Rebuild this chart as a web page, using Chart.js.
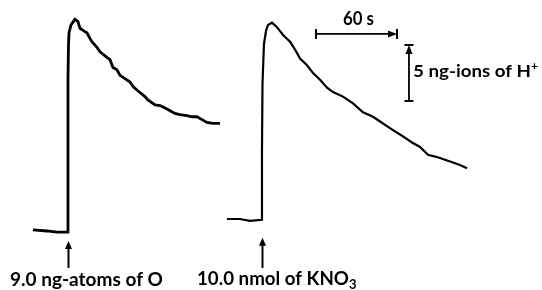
<!DOCTYPE html>
<html>
<head>
<meta charset="utf-8">
<script src="https://cdn.jsdelivr.net/npm/chart.js@4.4.1/dist/chart.umd.min.js"></script>
<style>
  html, body { margin: 0; padding: 0; background: #fff; }
  #wrap { width: 542px; height: 290px; position: relative; }
</style>
</head>
<body>
<div id="wrap"><canvas id="trace"></canvas></div>
<script>
// chart time in seconds (0 = first addition), H+ in ng-ions (0 = first baseline)
var oxygenTime = [-26.6, -15.9, -8.4, 0, 0, 0, 0.4, 0.8, 2.3, 5.3, 7.6, 9.1, 12.9, 14.4, 16.7, 18.2, 22.0, 24.3, 29.6, 31.9, 34.2, 37.2, 39.5, 43.3, 47.1, 49.4, 53.2, 58.5, 60.7, 66.1, 69.9, 75.2, 81.2, 85.0, 90.4, 94.2, 97.9, 102.5, 105.5, 110.1, 115.4];
var oxygenH = [0.1, 0, -0.1, -0.1, 7.3, 13.5, 16.6, 17.7, 18.4, 18.9, 18.7, 18.1, 17.8, 17.7, 17.2, 16.9, 16.4, 16.0, 15.5, 15.3, 14.6, 14.4, 13.9, 13.6, 13.3, 12.9, 12.5, 12.0, 11.7, 11.25, 11.2, 10.9, 10.5, 10.4, 10.3, 10.2, 10.2, 9.9, 9.7, 9.6, 9.6];

var nitrateTime = [120.7, 130.6, 138.2, 147.3, 147.3, 147.7, 148.8, 150.4, 151.9, 154.9, 158.7, 163.3, 168.6, 172.4, 176.2, 181.5, 186.1, 191.4, 196.7, 201.2, 208.8, 216.4, 224.0, 231.6, 239.2, 246.8, 253.6, 257.4, 261.2, 267.3, 273.3, 280.2, 290.1, 297.6, 303.0];
var nitrateH = [1.07, 1.07, 0.9, 1.0, 7.2, 13.2, 16.7, 17.9, 18.4, 18.6, 18.2, 17.5, 16.9, 16.2, 15.4, 14.8, 14.1, 13.5, 12.8, 12.4, 12.0, 11.4, 10.6, 10.2, 9.6, 9.0, 8.5, 8.2, 7.9, 7.5, 6.8, 6.6, 6.2, 5.9, 5.6];

var additionTimes = [0, 147.3];
var additionLabels = ['9.0 ng-atoms of O', '10.0 nmol of KNO'];
var timeBar = [188.3, 249.8];   // 60 s
var timeBarY = 17.6;
var protonBar = [11.6, 16.6];   // 5 ng-ions
var protonBarX = 258.9;

function pts(xs, ys) {
  return xs.map(function (x, i) { return { x: x, y: ys[i] }; });
}

var font = '"Lato", "Open Sans", sans-serif';

// draw text squeezed/stretched to a given width (old Gill Sans is wider than Lato)
function wideText(c, txt, x, y, width) {
  var w = c.measureText(txt).width;
  c.save();
  c.translate(x, y);
  c.scale(width / w, 1);
  c.fillText(txt, 0, 0);
  c.restore();
  return width;
}

var marks = {
  id: 'marks',
  afterDraw: function (chart) {
    var c = chart.ctx, xs = chart.scales.x, ys = chart.scales.y;
    c.save();
    c.strokeStyle = '#000';
    c.fillStyle = '#000';
    c.lineWidth = 2;

    // addition arrows
    additionTimes.forEach(function (t, i) {
      var px = Math.round(xs.getPixelForValue(t)) + 0.5;
      var tip = ys.getPixelForValue(i ? -0.6 : -0.9), tail = ys.getPixelForValue(-3.3);
      c.beginPath(); c.moveTo(px, tail); c.lineTo(px, tip + 5); c.stroke();
      c.beginPath(); c.moveTo(px, tip); c.lineTo(px - 3.5, tip + 8); c.lineTo(px + 3.5, tip + 8); c.closePath(); c.fill();
    });
    c.textBaseline = 'alphabetic';
    c.textAlign = 'left';
    c.font = 'bold 18px ' + font;
    wideText(c, additionLabels[0], 10, 286, 153);
    var w = wideText(c, additionLabels[1], 197, 285, 152);
    c.font = 'bold 13px ' + font;
    c.fillText('3', 197 + w, 289);

    // 60 s bar
    var x1 = xs.getPixelForValue(timeBar[0]), x2 = xs.getPixelForValue(timeBar[1]);
    var yb = ys.getPixelForValue(timeBarY);
    c.lineWidth = 1.6;
    c.beginPath(); c.moveTo(x1, yb); c.lineTo(x2 - 6, yb); c.stroke();
    c.lineWidth = 2;
    c.beginPath(); c.moveTo(x1, yb - 5); c.lineTo(x1, yb + 5); c.moveTo(x2, yb - 5); c.lineTo(x2, yb + 5); c.stroke();
    c.beginPath(); c.moveTo(x2, yb); c.lineTo(x2 - 9, yb - 3.5); c.lineTo(x2 - 9, yb + 3.5); c.closePath(); c.fill();
    c.font = 'bold 18px ' + font;
    wideText(c, '60 s', 343, 25, 31);

    // 5 ng-ions bar
    var xv = xs.getPixelForValue(protonBarX);
    var y1 = ys.getPixelForValue(protonBar[0]), y2 = ys.getPixelForValue(protonBar[1]);
    c.lineWidth = 1.8;
    c.beginPath(); c.moveTo(xv, y1); c.lineTo(xv, y2 + 6); c.stroke();
    c.lineWidth = 2;
    c.beginPath(); c.moveTo(xv - 4.5, y1); c.lineTo(xv + 4.5, y1); c.moveTo(xv - 4.5, y2); c.lineTo(xv + 4.5, y2); c.stroke();
    c.beginPath(); c.moveTo(xv, y2); c.lineTo(xv - 3.5, y2 + 9); c.lineTo(xv + 3.5, y2 + 9); c.closePath(); c.fill();
    c.font = 'bold 17px ' + font;
    var lw = wideText(c, '5 ng-ions of H', 413, 77, 118);
    c.font = 'bold 12px ' + font;
    c.fillText('+', 413 + lw, 70);
    c.restore();
  }
};

new Chart(document.getElementById('trace').getContext('2d'), {
  type: 'scatter',
  data: {
    datasets: [{
      label: 'O',
      data: pts(oxygenTime, oxygenH),
      showLine: true,
      borderColor: '#000',
      borderWidth: 2.8,
      pointRadius: 0,
      tension: 0
    }, {
      label: 'KNO3',
      data: pts(nitrateTime, nitrateH),
      showLine: true,
      borderColor: '#000',
      borderWidth: 2.2,
      pointRadius: 0,
      tension: 0
    }]
  },
  options: {
    responsive: true,
    maintainAspectRatio: false,
    animation: false,
    layout: { padding: 0 },
    plugins: { legend: { display: false }, tooltip: { enabled: false } },
    scales: {
      x: { type: 'linear', display: false, min: -51.6, max: 359.9 },
      y: { type: 'linear', display: false, min: -5.27, max: 20.625 }
    }
  },
  plugins: [marks]
});
</script>
</body>
</html>
